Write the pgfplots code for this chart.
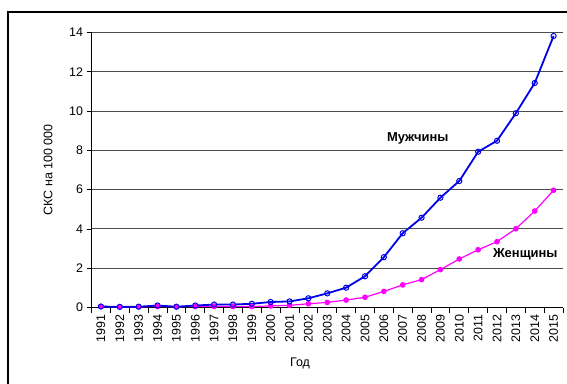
\documentclass[border=0pt]{standalone}
\usepackage{fontspec}
\setmainfont{Liberation Sans}
\usepackage{pgfplots}
\pgfplotsset{compat=1.18}
\definecolor{mag}{RGB}{255,0,255}
\definecolor{blu}{RGB}{0,0,235}
\begin{document}
\begin{tikzpicture}[x=1bp,y=1bp]
\useasboundingbox (0,0) rectangle (567,383);
\begin{scope}
\clip (0,0) rectangle (567,383);
\draw[line width=1.2bp] (8,-10) rectangle (580,371);
\end{scope}
\begin{axis}[
  at={(91.5bp,75.5bp)}, anchor=south west,
  scale only axis, width=471.5bp, height=275bp,
  xmin=-0.5, xmax=24.5, ymin=0, ymax=14,
  axis x line=bottom, axis y line=left,
  axis line style={-, black, line width=0.8bp},
  xtick={0,...,24},
  xticklabels={1991,1992,1993,1994,1995,1996,1997,1998,1999,2000,2001,2002,2003,2004,2005,2006,2007,2008,2009,2010,2011,2012,2013,2014,2015},
  x tick label style={rotate=90, anchor=east, font=\fontsize{12.5}{14}\selectfont, inner sep=2bp},
  major x tick style={draw=none},
  minor xtick={-0.5,0.5,...,24.5},
  minor tick length=5bp,
  minor x tick style={black, line width=0.8bp},
  ytick={0,2,...,14},
  y tick label style={font=\fontsize{12.5}{14}\selectfont},
  major tick length=5bp,
  tick align=outside,
  major y tick style={black, line width=0.8bp},
  ymajorgrids, grid style={black!70, line width=0.9bp},
  /pgf/number format/assume math mode=true,
  clip=false,
]
\addplot[mag, line width=1.2bp, mark=*, mark size=2.2bp, mark options={fill=mag, draw=mag}] coordinates {
(0,0.05)(1,0.04)(2,0.04)(3,0.05)(4,0.04)(5,0.05)(6,0.05)(7,0.05)(8,0.05)(9,0.08)(10,0.11)(11,0.19)(12,0.26)(13,0.38)(14,0.52)(15,0.82)(16,1.15)(17,1.42)(18,1.93)(19,2.47)(20,2.94)(21,3.35)(22,4.01)(23,4.91)(24,5.97)
};
\addplot[blu, line width=1.8bp, mark=o, mark size=2.6bp, mark options={fill=white, line width=1bp}] coordinates {
(0,0.05)(1,0.03)(2,0.04)(3,0.1)(4,0.04)(5,0.1)(6,0.15)(7,0.15)(8,0.19)(9,0.28)(10,0.31)(11,0.47)(12,0.72)(13,1.01)(14,1.59)(15,2.56)(16,3.78)(17,4.57)(18,5.59)(19,6.44)(20,7.93)(21,8.49)(22,9.89)(23,11.43)(24,13.82)
};
\node[font=\bfseries\fontsize{13}{15}\selectfont] at (axis cs:16.8,8.63) {Мужчины};
\node[font=\bfseries\fontsize{13}{15}\selectfont] at (axis cs:22.5,2.72) {Женщины};
\end{axis}
\node[rotate=90, font=\fontsize{12.5}{14}\selectfont] at (48,213) {СКС на 100 000};
\node[font=\fontsize{12.5}{14}\selectfont] at (300,20) {Год};
\end{tikzpicture}
\end{document}
